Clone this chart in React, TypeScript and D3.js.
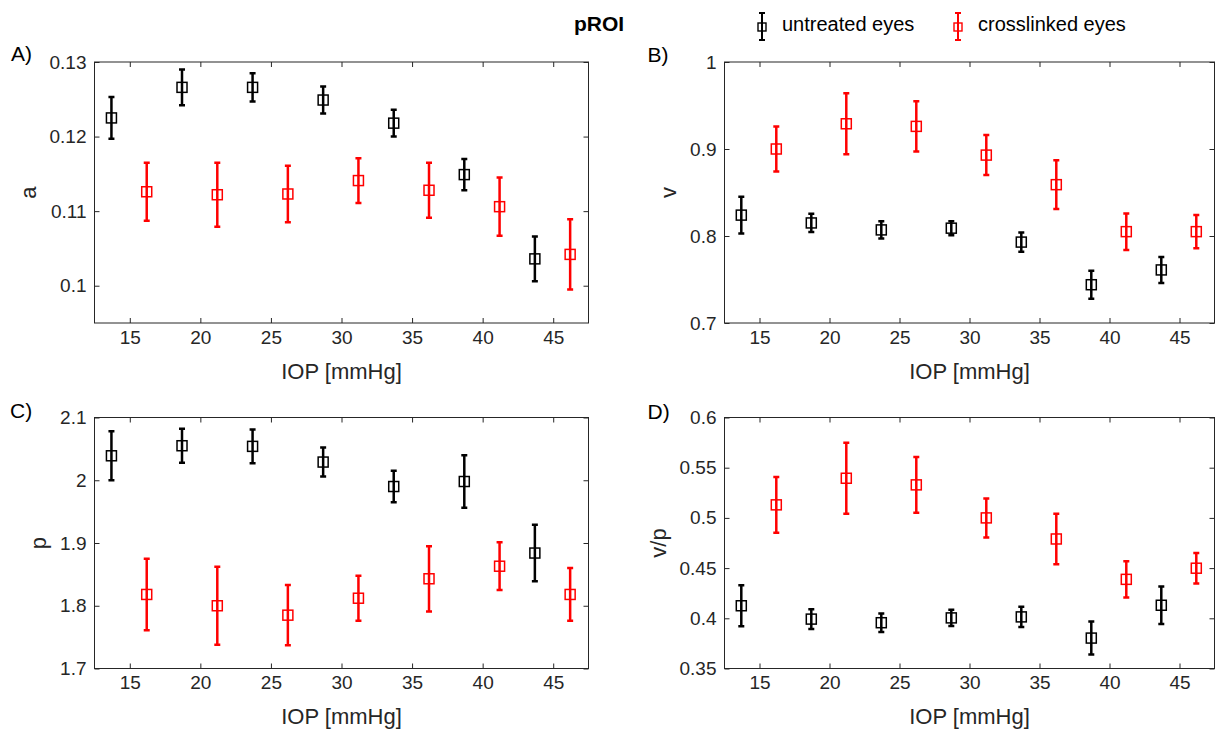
import * as d3 from 'd3';
import React from 'react';

// IOP positions [mmHg]; the two groups are shifted apart around 15, 20 ... 45
const iopUntreated = [13.7, 18.7, 23.7, 28.7, 33.7, 38.7, 43.7];
const iopCrosslinked = [16.2, 21.2, 26.2, 31.2, 36.2, 41.2, 46.2];
const iopTicks = [15, 20, 25, 30, 35, 40, 45];

// A) a
const aUntreated = [0.1225, 0.1266, 0.1266, 0.1249, 0.1218, 0.1149, 0.1036];
const aUntreatedErr = [0.0028, 0.0024, 0.0019, 0.0018, 0.0018, 0.0021, 0.0030];
const aCrosslinked = [0.1126, 0.1122, 0.1123, 0.1141, 0.1128, 0.1106, 0.1042];
const aCrosslinkedErr = [0.0039, 0.0043, 0.0038, 0.0030, 0.0037, 0.0039, 0.0047];
const aTicks = [0.1, 0.11, 0.12, 0.13];

// B) v
const vUntreated = [0.824, 0.815, 0.807, 0.809, 0.793, 0.744, 0.761];
const vUntreatedErr = [0.021, 0.0105, 0.010, 0.008, 0.011, 0.016, 0.015];
const vCrosslinked = [0.900, 0.929, 0.926, 0.893, 0.859, 0.805, 0.805];
const vCrosslinkedErr = [0.026, 0.035, 0.029, 0.023, 0.028, 0.021, 0.019];
const vTicks = [0.7, 0.8, 0.9, 1];

// C) p
const pUntreated = [2.039, 2.055, 2.054, 2.029, 1.990, 1.998, 1.884];
const pUntreatedErr = [0.039, 0.027, 0.027, 0.023, 0.025, 0.042, 0.045];
const pCrosslinked = [1.818, 1.800, 1.785, 1.812, 1.843, 1.863, 1.818];
const pCrosslinkedErr = [0.057, 0.062, 0.048, 0.036, 0.052, 0.038, 0.042];
const pTicks = [1.7, 1.8, 1.9, 2, 2.1];

// D) v/p
const vpUntreated = [0.4125, 0.3992, 0.3956, 0.4004, 0.4014, 0.3803, 0.4130];
const vpUntreatedErr = [0.0204, 0.0099, 0.0093, 0.0081, 0.0101, 0.0164, 0.0187];
const vpCrosslinked = [0.5130, 0.5395, 0.5329, 0.5000, 0.4790, 0.4388, 0.4499];
const vpCrosslinkedErr = [0.0278, 0.0354, 0.0278, 0.0194, 0.0252, 0.0180, 0.0152];
const vpTicks = [0.35, 0.4, 0.45, 0.5, 0.55, 0.6];

const seriesNames = ['untreated eyes', 'crosslinked eyes'];
const seriesColors = ['#000000', '#ff0000'];

const fontFamily = '"Liberation Sans", Arial, Helvetica, sans-serif';
const axisColor = '#262626';

class PROIFigure extends React.Component {
    componentDidMount() {
        this.plotFigure();
    }

    plotFigure() {
        const svg = d3.select('#proi');
        // strict mode mounts twice
        svg.selectAll('*').remove();

        const panels = [
            {
                tag: 'A)', ylabel: 'a', left: 94.5, top: 62, width: 494, height: 261,
                yDomain: [0.095, 0.13], yTicks: aTicks,
                untreated: aUntreated, untreatedErr: aUntreatedErr,
                crosslinked: aCrosslinked, crosslinkedErr: aCrosslinkedErr,
                tagX: 11, tagY: 61,
            },
            {
                tag: 'B)', ylabel: 'v', left: 724.5, top: 62, width: 490, height: 261,
                yDomain: [0.7, 1], yTicks: vTicks,
                untreated: vUntreated, untreatedErr: vUntreatedErr,
                crosslinked: vCrosslinked, crosslinkedErr: vCrosslinkedErr,
                tagX: 647.5, tagY: 62,
            },
            {
                tag: 'C)', ylabel: 'p', left: 94.5, top: 417.5, width: 494, height: 251,
                yDomain: [1.7, 2.1], yTicks: pTicks,
                untreated: pUntreated, untreatedErr: pUntreatedErr,
                crosslinked: pCrosslinked, crosslinkedErr: pCrosslinkedErr,
                tagX: 10, tagY: 418,
            },
            {
                tag: 'D)', ylabel: 'v/p', left: 724.5, top: 417.5, width: 490, height: 251,
                yDomain: [0.35, 0.6], yTicks: vpTicks,
                untreated: vpUntreated, untreatedErr: vpUntreatedErr,
                crosslinked: vpCrosslinked, crosslinkedErr: vpCrosslinkedErr,
                tagX: 647.5, tagY: 419,
            },
        ];

        panels.forEach((p) => this.plotPanel(svg, p));

        // title
        svg.append('text')
            .attr('x', 574)
            .attr('y', 30.5)
            .attr('fill', '#000')
            .style('font-family', fontFamily)
            .style('font-size', '21px')
            .style('font-weight', 'bold')
            .text('pROI');

        // legend (no box)
        const legendX = [762, 958];
        seriesNames.forEach((name, i) => {
            const lg = svg.append('g').attr('transform', `translate(${legendX[i]},0)`);
            lg.append('path')
                .attr('d', 'M0,13V40M-3,13H3M-3,40H3')
                .attr('stroke', seriesColors[i])
                .attr('stroke-width', 2)
                .attr('fill', 'none');
            lg.append('rect')
                .attr('x', -4).attr('y', 23)
                .attr('width', 8).attr('height', 8)
                .attr('fill', 'none')
                .attr('stroke', seriesColors[i])
                .attr('stroke-width', 1.4);
            lg.append('text')
                .attr('x', 20)
                .attr('y', 30.5)
                .attr('fill', '#000')
                .style('font-family', fontFamily)
                .style('font-size', '20px')
                .text(name);
        });
    }

    plotPanel(svg, p) {
        const g = svg.append('g')
            .attr('transform', `translate(${p.left},${p.top})`);

        const x = d3.scaleLinear().domain([12.5, 47.5]).range([0, p.width]);
        const y = d3.scaleLinear().domain(p.yDomain).range([p.height, 0]);

        const styleAxis = (sel) => {
            sel.select('.domain').remove();
            sel.selectAll('line').attr('stroke', axisColor);
            sel.selectAll('text')
                .attr('fill', axisColor)
                .style('font-family', fontFamily)
                .style('font-size', '19px');
        };

        // ticks on all four sides, pointing inwards
        g.append('g')
            .attr('transform', `translate(0,${p.height})`)
            .call(d3.axisBottom(x).tickValues(iopTicks).tickSize(-5).tickPadding(7.5))
            .call(styleAxis);
        g.append('g')
            .call(d3.axisTop(x).tickValues(iopTicks).tickSize(-5).tickFormat(() => ''))
            .call(styleAxis);
        const yAxisG = g.append('g')
            .call(d3.axisLeft(y).tickValues(p.yTicks).tickSize(-5).tickPadding(8).tickFormat(d3.format('~g')))
            .call(styleAxis);
        g.append('g')
            .attr('transform', `translate(${p.width},0)`)
            .call(d3.axisRight(y).tickValues(p.yTicks).tickSize(-5).tickFormat(() => ''))
            .call(styleAxis);

        g.append('rect')
            .attr('width', p.width)
            .attr('height', p.height)
            .attr('fill', 'none')
            .attr('stroke', axisColor)
            .attr('stroke-width', 1);

        const series = [
            { iop: iopUntreated, mean: p.untreated, err: p.untreatedErr, color: seriesColors[0] },
            { iop: iopCrosslinked, mean: p.crosslinked, err: p.crosslinkedErr, color: seriesColors[1] },
        ];

        const cap = 3;
        series.forEach((s) => {
            const pts = s.iop.map((v, i) => ({ iop: v, m: s.mean[i], e: s.err[i] }));
            const sg = g.append('g');
            sg.selectAll('path')
                .data(pts)
                .enter()
                .append('path')
                .attr('d', (d) => {
                    const cx = x(d.iop), lo = y(d.m - d.e), hi = y(d.m + d.e);
                    return `M${cx},${lo}V${hi}M${cx - cap},${lo}H${cx + cap}M${cx - cap},${hi}H${cx + cap}`;
                })
                .attr('stroke', s.color)
                .attr('stroke-width', 2.5)
                .attr('fill', 'none');
            sg.selectAll('rect')
                .data(pts)
                .enter()
                .append('rect')
                .attr('x', (d) => x(d.iop) - 5)
                .attr('y', (d) => y(d.m) - 5)
                .attr('width', 10)
                .attr('height', 10)
                .attr('fill', 'none')
                .attr('stroke', s.color)
                .attr('stroke-width', 1.5);
        });

        // x label
        g.append('text')
            .attr('x', p.width / 2)
            .attr('y', p.height + 55.5)
            .attr('text-anchor', 'middle')
            .attr('fill', axisColor)
            .style('font-family', fontFamily)
            .style('font-size', '22px')
            .text('IOP [mmHg]');

        // y label sits just left of the widest tick label
        const bb = yAxisG.node().getBBox();
        g.append('text')
            .attr('transform', `translate(${bb.x - 14},${p.height / 2}) rotate(-90)`)
            .attr('text-anchor', 'middle')
            .attr('fill', axisColor)
            .style('font-family', fontFamily)
            .style('font-size', '22px')
            .text(p.ylabel);

        // panel tag
        svg.append('text')
            .attr('x', p.tagX)
            .attr('y', p.tagY)
            .attr('fill', '#000')
            .style('font-family', fontFamily)
            .style('font-size', '21px')
            .text(p.tag);
    }

    render() {
        return (
            <svg
                id="proi"
                width={1224}
                height={732}
                style={{ position: 'absolute', left: 0, top: 0, background: '#fff' }}
            />
        );
    }
}

export default function App() {
    return <PROIFigure />;
}
